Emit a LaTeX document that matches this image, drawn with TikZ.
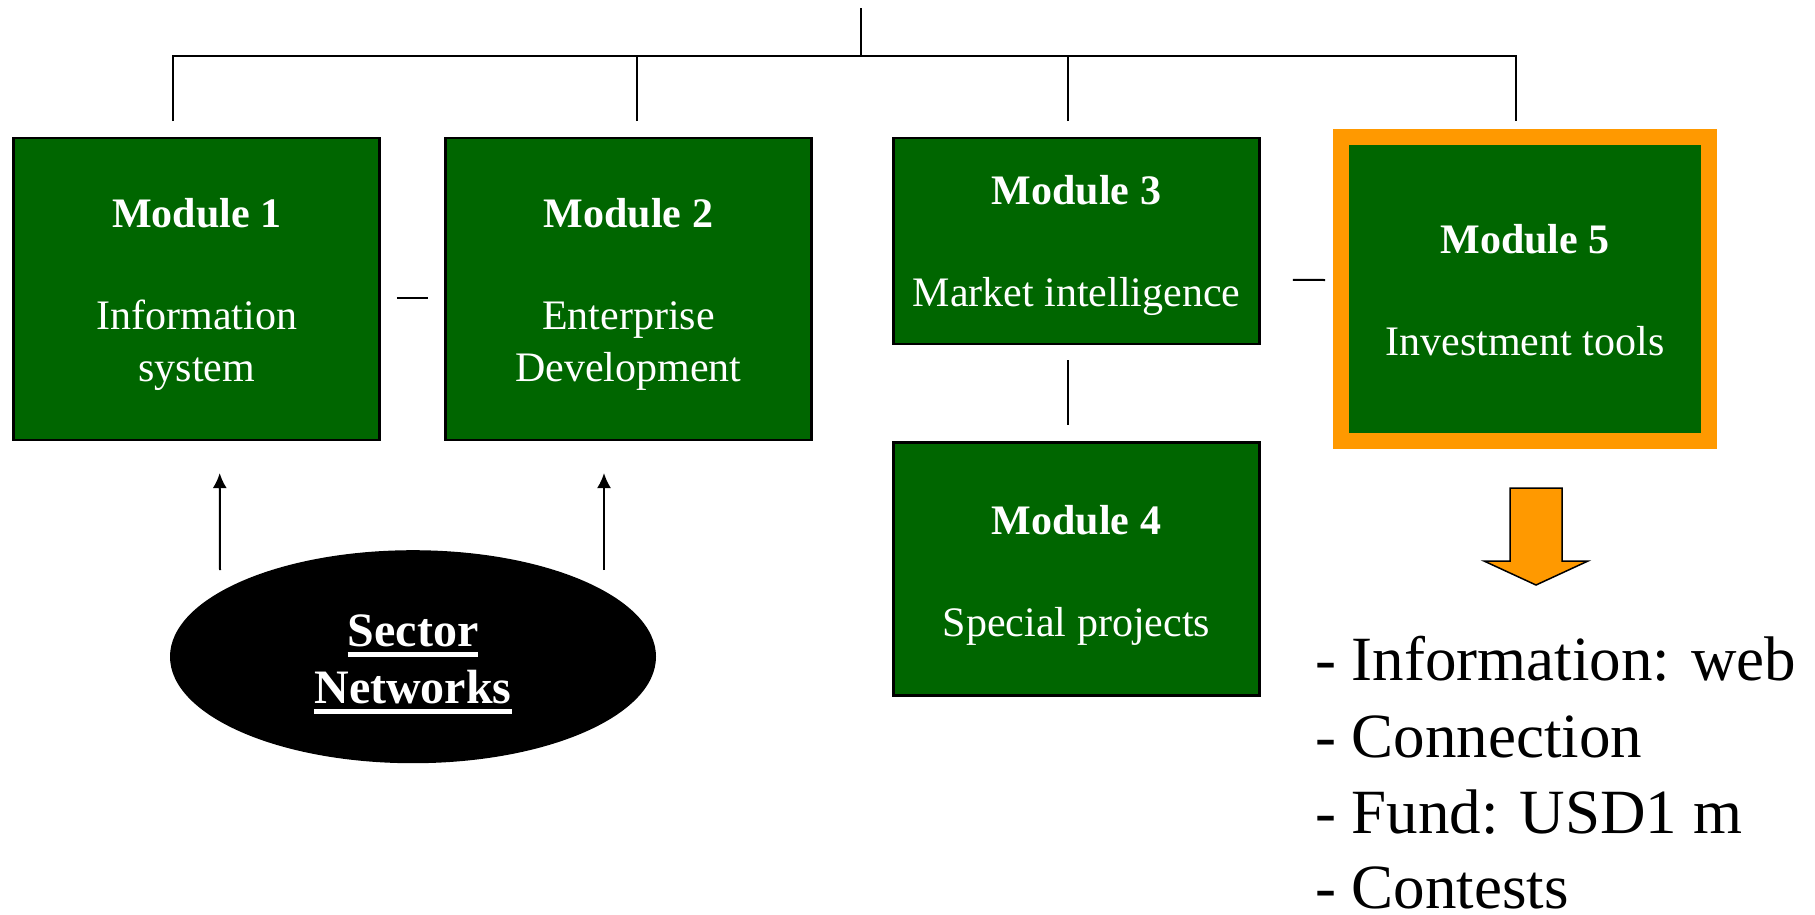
\documentclass[tikz,border=0pt]{standalone}
\usepackage{fontspec}
\setmainfont{Liberation Serif}
\usetikzlibrary{shapes.geometric,arrows.meta}
\definecolor{modgreen}{HTML}{006600}
\definecolor{modorange}{HTML}{FF9900}
\newcommand{\secline}[1]{\setbox0\hbox{#1}\rlap{\rule[-10pt]{\wd0}{5pt}}\box0}
\newcommand{\modhead}[2][41pt]{\rule{0pt}{#1}\textbf{#2}}

\begin{document}
\begin{tikzpicture}[x=1pt,y=-1pt]
\tikzset{module/.style={draw=black, line width=2.5pt, fill=modgreen, text=white, align=center, inner sep=0pt, minimum width=366pt, font=\fontsize{42}{52}\selectfont}}
\tikzset{link/.style={line width=2pt}}
\tikzset{item/.style={anchor=base west, inner sep=0pt, font=\fontsize{63}{76}\selectfont}}
\useasboundingbox (0,0) rectangle (1815,914);

\node[module, minimum height=302pt] (m1) at (196.7,288.8) {\modhead{Module 1}\\[50pt]Information\\system};
\node[module, minimum height=302pt] (m2) at (628.5,288.8) {\modhead{Module 2}\\[50pt]Enterprise\\Development};
\node[module, minimum height=206pt] (m3) at (1076.5,240.8) {\modhead[38pt]{Module 3}\\[50pt]Market intelligence};
\node[module, minimum height=253pt] (m4) at (1076.5,569) {\modhead{Module 4}\\[50pt]Special projects};
\node[module, draw=modorange, line width=16pt, minimum width=368pt, minimum height=304pt] (m5) at (1525,289) {\modhead[32pt]{Module 5}\\[50pt]Investment tools};

\node[ellipse, fill=black, text=white, align=center, inner sep=0pt, minimum width=486pt, minimum height=213pt,
  font=\bfseries\fontsize{48}{57}\selectfont] (sec) at (413,656.7) {\rule{0pt}{47pt}\secline{Sector}\\\secline{Networks}};

% tree on top
\coordinate (top) at (861,8);
\coordinate (bus) at (861,56);
\coordinate (d1) at (173,121);
\coordinate (d2) at (637,121);
\coordinate (d3) at (1068,121);
\coordinate (d4) at (1516,121);
\draw[link] (top) -- (bus);
\draw[link] (d1) |- (bus) -| (d4);
\draw[link] (d2) -- (d2 |- bus);
\draw[link] (d3) -- (d3 |- bus);

\draw[link] ([shift={(16,9)}]m1.east) -- ([shift={(-16,9)}]m2.west);
\draw[link] ([shift={(32,39)}]m3.east) -- ([shift={(-8,-9)}]m5.west);
\draw[link] ([shift={(-9,15)}]m3.south) -- ([shift={(-9,-16)}]m4.north);

\draw[link, -{Latex[length=15pt,width=14pt]}] ([shift={(-193,20)}]sec.north) -- ([shift={(23,32)}]m1.south);
\draw[link, -{Latex[length=15pt,width=14pt]}] ([shift={(191,20)}]sec.north) -- ([shift={(-24.5,32)}]m2.south);

\draw[line width=1.5pt, fill=modorange] (1510,488) -- (1562,488) -- (1562,561) -- (1588,561) -- (1536,585) -- (1484,561) -- (1510,561) -- cycle;

\node[item] (i1) at (1315,680) {- Information: web};
\node[item] (i2) at (1315,757) {- Connection};
\node[item] (i3) at (1315,833) {- Fund: USD1 m};
\node[item] (i4) at (1315,908) {- Contests};
\end{tikzpicture}
\end{document}
